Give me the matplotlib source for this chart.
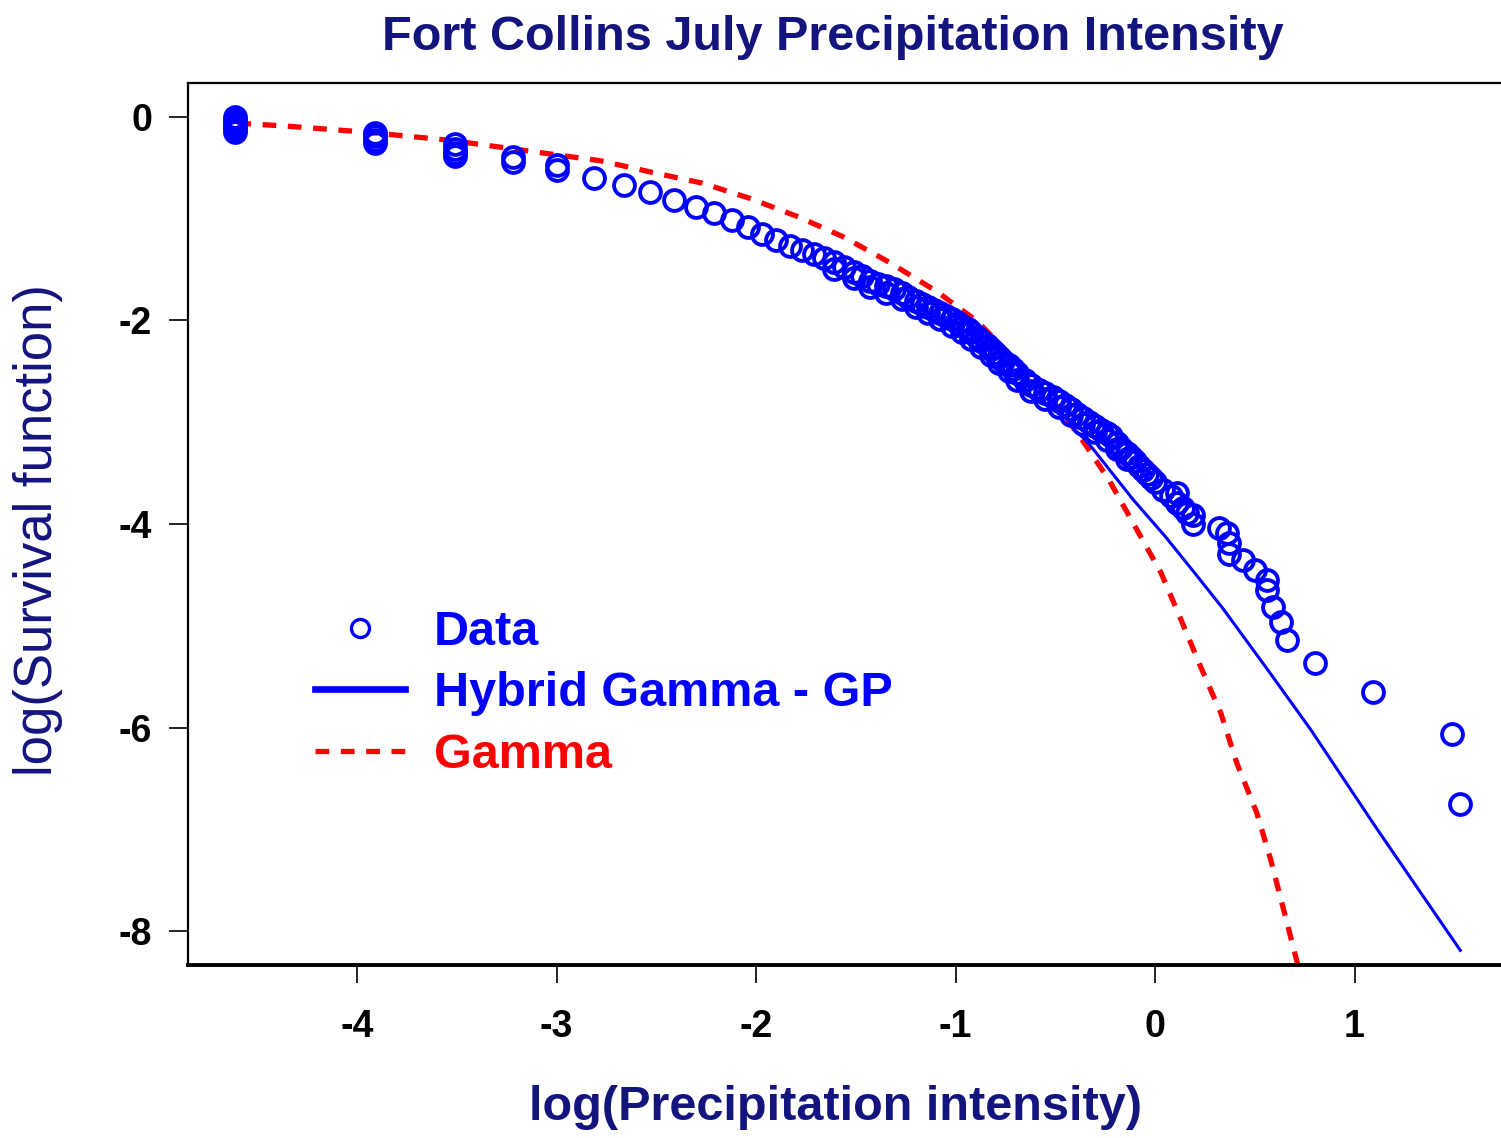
import matplotlib
matplotlib.use('Agg')
import matplotlib.pyplot as plt
from matplotlib.lines import Line2D

# empirical log survival function (log of intensity, log of survival)
data_x = [-4.61, -4.61, -4.61, -4.61, -4.61, -4.61,
          -3.91, -3.91, -3.91, -3.91,
          -3.51, -3.51, -3.51, -3.51,
          -3.22, -3.22, -3.00, -3.00, -2.81, -2.66, -2.53, -2.41,
          -2.30, -2.21, -2.12, -2.04, -1.97, -1.90, -1.83, -1.77, -1.71, -1.66,
          -1.61, -1.56, -1.51, -1.47, -1.43, -1.39, -1.35, -1.31, -1.27, -1.24,
          -1.20, -1.17, -1.14, -1.11, -1.08, -1.05, -1.02, -0.99, -0.97, -0.94,
          -0.92, -0.89, -0.87, -0.84, -0.82, -0.80, -0.78, -0.76, -0.73, -0.71,
          -0.69, -0.65, -0.62, -0.58, -0.55, -0.51, -0.48, -0.45, -0.42, -0.39,
          -0.36, -0.33, -0.30, -0.27, -0.24, -0.22, -0.19, -0.17, -0.14, -0.12,
          -0.10, -0.08, -0.06, -0.04, -0.02, 0.00, 0.04, 0.08, 0.11, 0.11,
          0.14, 0.16, 0.19, 0.19,
          0.32, 0.36, 0.37, 0.37, 0.44, 0.50, 0.56, 0.56, 0.59, 0.63, 0.66,
          0.80, 1.09, 1.49, 1.53]
data_y = [0.00, -0.03, -0.06, -0.09, -0.12, -0.15,
          -0.16, -0.19, -0.23, -0.26,
          -0.27, -0.31, -0.35, -0.38,
          -0.39, -0.44, -0.47, -0.52, -0.60, -0.67, -0.74, -0.82,
          -0.88, -0.94, -1.01, -1.08, -1.15, -1.21, -1.27, -1.31, -1.35, -1.39,
          -1.43, -1.47, -1.52, -1.56, -1.61, -1.64, -1.66, -1.69, -1.73, -1.77,
          -1.81, -1.84, -1.87, -1.90, -1.93, -1.96, -1.99, -2.02, -2.05, -2.08,
          -2.11, -2.16, -2.20, -2.24, -2.28, -2.32, -2.36, -2.40, -2.44, -2.48,
          -2.52, -2.58, -2.63, -2.68, -2.71, -2.75, -2.79, -2.83, -2.87, -2.92,
          -2.96, -3.00, -3.04, -3.08, -3.11, -3.14, -3.20, -3.25, -3.30, -3.34,
          -3.38, -3.43, -3.47, -3.51, -3.55, -3.59, -3.67, -3.72, -3.70, -3.79,
          -3.84, -3.89, -3.91, -4.00,
          -4.04, -4.09, -4.19, -4.29, -4.35, -4.45, -4.55, -4.65, -4.82, -4.96, -5.14,
          -5.37, -5.65, -6.06, -6.75]

# tied values sitting just below the main band
tie_x = [-1.61, -1.51, -1.43, -1.35, -1.27, -1.20, -1.14, -1.08, -1.02, -0.97,
         -0.92, -0.87, -0.82, -0.78, -0.73, -0.69, -0.62, -0.55, -0.48, -0.42,
         -0.36, -0.30, -0.24, -0.19, -0.14]
tie_y = [-1.49, -1.58, -1.67, -1.73, -1.79, -1.87, -1.93, -1.99, -2.05, -2.11,
         -2.18, -2.26, -2.34, -2.42, -2.50, -2.58, -2.69, -2.77, -2.85, -2.93,
         -3.02, -3.10, -3.17, -3.26, -3.36]

# fitted gamma
gam_x = [-4.60, -4.35, -3.95, -3.53, -3.12, -2.78, -2.53, -2.27, -2.03, -1.79,
         -1.56, -1.33, -1.09, -0.89, -0.71, -0.53, -0.38, -0.23, -0.11, 0.03,
         0.13, 0.23, 0.33, 0.41, 0.51, 0.58, 0.71, 0.75]
gam_y = [-0.06, -0.09, -0.15, -0.23, -0.34, -0.43, -0.54, -0.65, -0.80, -0.98,
         -1.18, -1.43, -1.72, -2.01, -2.37, -2.75, -3.13, -3.57, -3.99, -4.48,
         -4.94, -5.41, -5.86, -6.35, -6.84, -7.30, -8.29, -8.60]

# hybrid gamma - GP tail
hyb_x = [-0.40, -0.34, -0.11, 0.05, 0.19, 0.34, 0.56, 0.78, 1.11, 1.53]
hyb_y = [-3.08, -3.19, -3.76, -4.12, -4.46, -4.83, -5.42, -6.02, -6.99, -8.19]

xticks = [-4, -3, -2, -1, 0, 1]
yticks = [0, -2, -4, -6, -8]

navy = '#14147f'
sans = ['Liberation Sans', 'DejaVu Sans']

W, H = 1501, 1138
fig = plt.figure(figsize=(W / 100, H / 100), dpi=100)
ax = fig.add_axes([188 / W, 1 - 965 / H, (W - 188) / W, (965 - 83) / H])

ax.plot(gam_x, gam_y, color='red', lw=3.8, ls=(0, (2.6, 2.2)), zorder=2)
ax.plot(hyb_x, hyb_y, color='blue', lw=2.2, zorder=3)
ax.plot(data_x + tie_x, data_y + tie_y, ls='none', marker='o', ms=15, mfc='none',
        mec='blue', mew=2.8, zorder=4)

ax.set_xlim(-4.847, 1.734)
ax.set_ylim(-8.334, 0.334)
ax.set_xticks(xticks)
ax.set_yticks(yticks)
ax.set_xticklabels([str(t) for t in xticks], family=sans, weight='bold', fontsize=27)
ax.set_yticklabels([str(t) for t in yticks], family=sans, weight='bold', fontsize=27)
ax.tick_params(axis='x', length=13, width=1.2, pad=19)
ax.tick_params(axis='y', length=14, width=1.2, pad=12)
ax.spines['right'].set_visible(False)
ax.spines['left'].set_linewidth(1.6)
ax.spines['top'].set_linewidth(1.6)
ax.spines['bottom'].set_linewidth(2.8)

handles = [
    Line2D([], [], ls='none', marker='o', ms=13, mfc='none', mec='blue', mew=2.4),
    Line2D([], [], color='blue', lw=4.8),
    Line2D([], [], color='red', lw=3.8, ls=(0, (2.6, 2.2))),
]
leg = ax.legend(handles, ['Data', 'Hybrid Gamma - GP', 'Gamma'],
                loc='upper left', bbox_to_anchor=(0.0967, 0.402), frameon=False,
                borderpad=0, borderaxespad=0, handlelength=1.85, handletextpad=0.6,
                labelspacing=0.33, labelcolor=['blue', 'blue', 'red'],
                prop={'family': sans, 'weight': 'bold', 'size': 35})

fig.text(833 / W, 1 - 37 / H, 'Fort Collins July Precipitation Intensity',
         ha='center', va='center', color=navy, family=sans, weight='bold', fontsize=35)
fig.text(835 / W, 1 - 1108 / H, 'log(Precipitation intensity)',
         ha='center', va='center', color=navy, family=sans, weight='bold', fontsize=35)
fig.text(38 / W, 1 - 530 / H, 'log(Survival function)', rotation=90,
         ha='center', va='center', color=navy, family=sans, fontsize=38)

fig.savefig('out.png', dpi=100)
